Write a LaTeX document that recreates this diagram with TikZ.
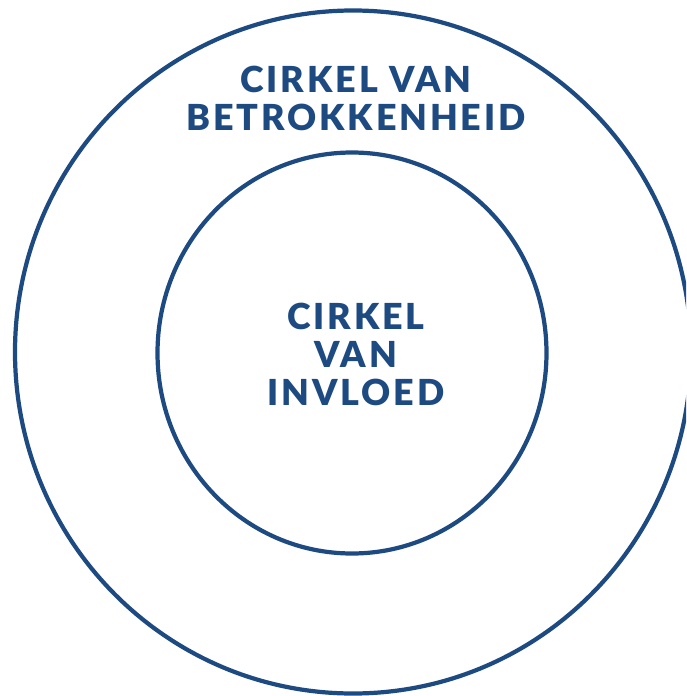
\documentclass[tikz,border=0pt]{standalone}
\usepackage{fontspec}
\setmainfont{Lato}[LetterSpace=8, BoldFont=Lato Black]
\usetikzlibrary{shapes.geometric, positioning}
\usepackage{xcolor}
\definecolor{ringBlue}{RGB}{30,74,130}

\begin{document}
\begin{tikzpicture}[
    x=0.025cm, y=-0.025cm,
    ring/.style={ellipse, draw=ringBlue, line width=3pt, inner sep=0pt},
    label/.style={text=ringBlue, align=center, font=\fontsize{25.5}{27}\selectfont\bfseries}
]
\useasboundingbox (0,0) rectangle (686,696);
\clip (0,0) rectangle (686,696);
% outer and inner circle
\node[ring, minimum width=676*0.025cm, minimum height=683*0.025cm] (outer) at (353,352) {};
\node[ring, minimum width=389*0.025cm, minimum height=401*0.025cm] (inner) at (352,353) {};
% texts
\node[label] (outertext) at (356,98) {CIRKEL VAN\\BETROKKENHEID};
\node[label] (innertext) at (356,354) {CIRKEL\\VAN\\INVLOED};
\end{tikzpicture}
\end{document}
